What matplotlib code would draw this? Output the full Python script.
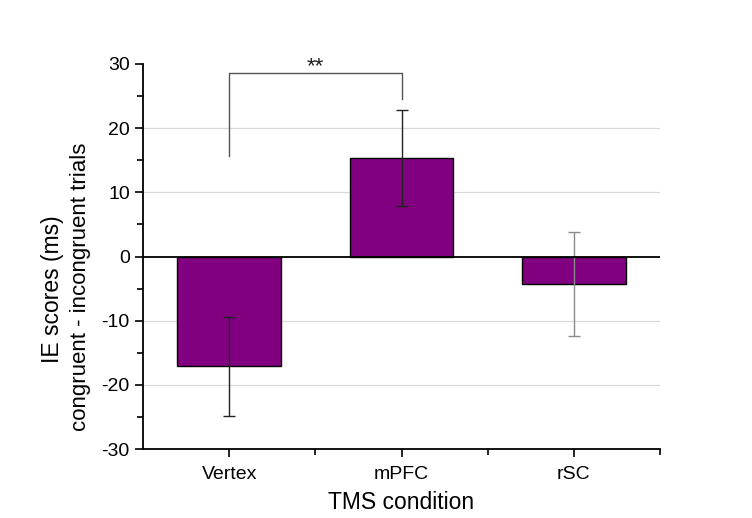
import numpy as np
import matplotlib.pyplot as plt
from matplotlib.ticker import MultipleLocator

plt.rcParams['font.family'] = ['Liberation Sans', 'DejaVu Sans']
plt.rcParams['axes.unicode_minus'] = False

# Data
conditions = ["Vertex", "mPFC", "rSC"]
ie_scores = [-17.1, 15.3, -4.3]
sem = [7.7, 7.5, 8.1]
err_colors = ["#222222", "#222222", "#8a8a8a"]

# Significance bracket (Vertex vs mPFC)
bracket_y = 28.6
bracket_left_bottom = 15.7
bracket_right_bottom = 24.6
sig_label = "**"

fig = plt.figure(figsize=(7.52, 5.18), dpi=100, facecolor="white")
ax = fig.add_axes([143 / 752, 1 - 449 / 518, 517 / 752, 385 / 518])

x = np.arange(1, len(conditions) + 1)

# Grid lines behind bars
for gy in [-20, -10, 10, 20]:
    ax.axhline(gy, color="#d9d9d9", lw=0.9, zorder=0)

ax.bar(x, ie_scores, width=0.6, color="#800080", edgecolor="black",
       linewidth=1.0, zorder=2)

for xi, val, err, c in zip(x, ie_scores, sem, err_colors):
    ax.errorbar(xi, val, yerr=err, fmt="none", ecolor=c, elinewidth=1.0,
                capsize=4, capthick=1.0, zorder=3)

ax.axhline(0, color="black", lw=1.3, zorder=4)

# Bracket
ax.plot([1, 1, 2, 2],
        [bracket_left_bottom, bracket_y, bracket_y, bracket_right_bottom],
        color="#555555", lw=1.0, zorder=3, clip_on=False)
ax.text(1.5, bracket_y - 0.6, sig_label, ha="center", va="bottom",
        fontsize=16, color="#222222")

ax.set_xlim(0.5, 3.5)
ax.set_ylim(-30, 30)
ax.set_xticks(x)
ax.set_xticklabels(conditions, fontsize=14)
ax.set_xticks([1.5, 2.5, 3.5], minor=True)
ax.yaxis.set_major_locator(MultipleLocator(10))
ax.yaxis.set_minor_locator(MultipleLocator(5))
ax.tick_params(axis="y", which="major", labelsize=14, length=6, width=1.2)
ax.tick_params(axis="y", which="minor", length=4, width=1.2)
ax.tick_params(axis="x", which="major", length=6, width=1.2, pad=6)
ax.tick_params(axis="x", which="minor", length=4, width=1.2)

for side in ["top", "right"]:
    ax.spines[side].set_visible(False)
for side in ["left", "bottom"]:
    ax.spines[side].set_linewidth(1.3)

ax.set_xlabel("TMS condition", fontsize=16.5, labelpad=6)

fig.text(53 / 752, 1 - 289 / 518, "IE scores (ms)", rotation=90,
         ha="center", va="center", fontsize=16.5)
fig.text(81 / 752, 1 - 287 / 518, "congruent - incongruent trials",
         rotation=90, ha="center", va="center", fontsize=16)

plt.savefig("out.png", dpi=100, facecolor="white")
plt.close(fig)
